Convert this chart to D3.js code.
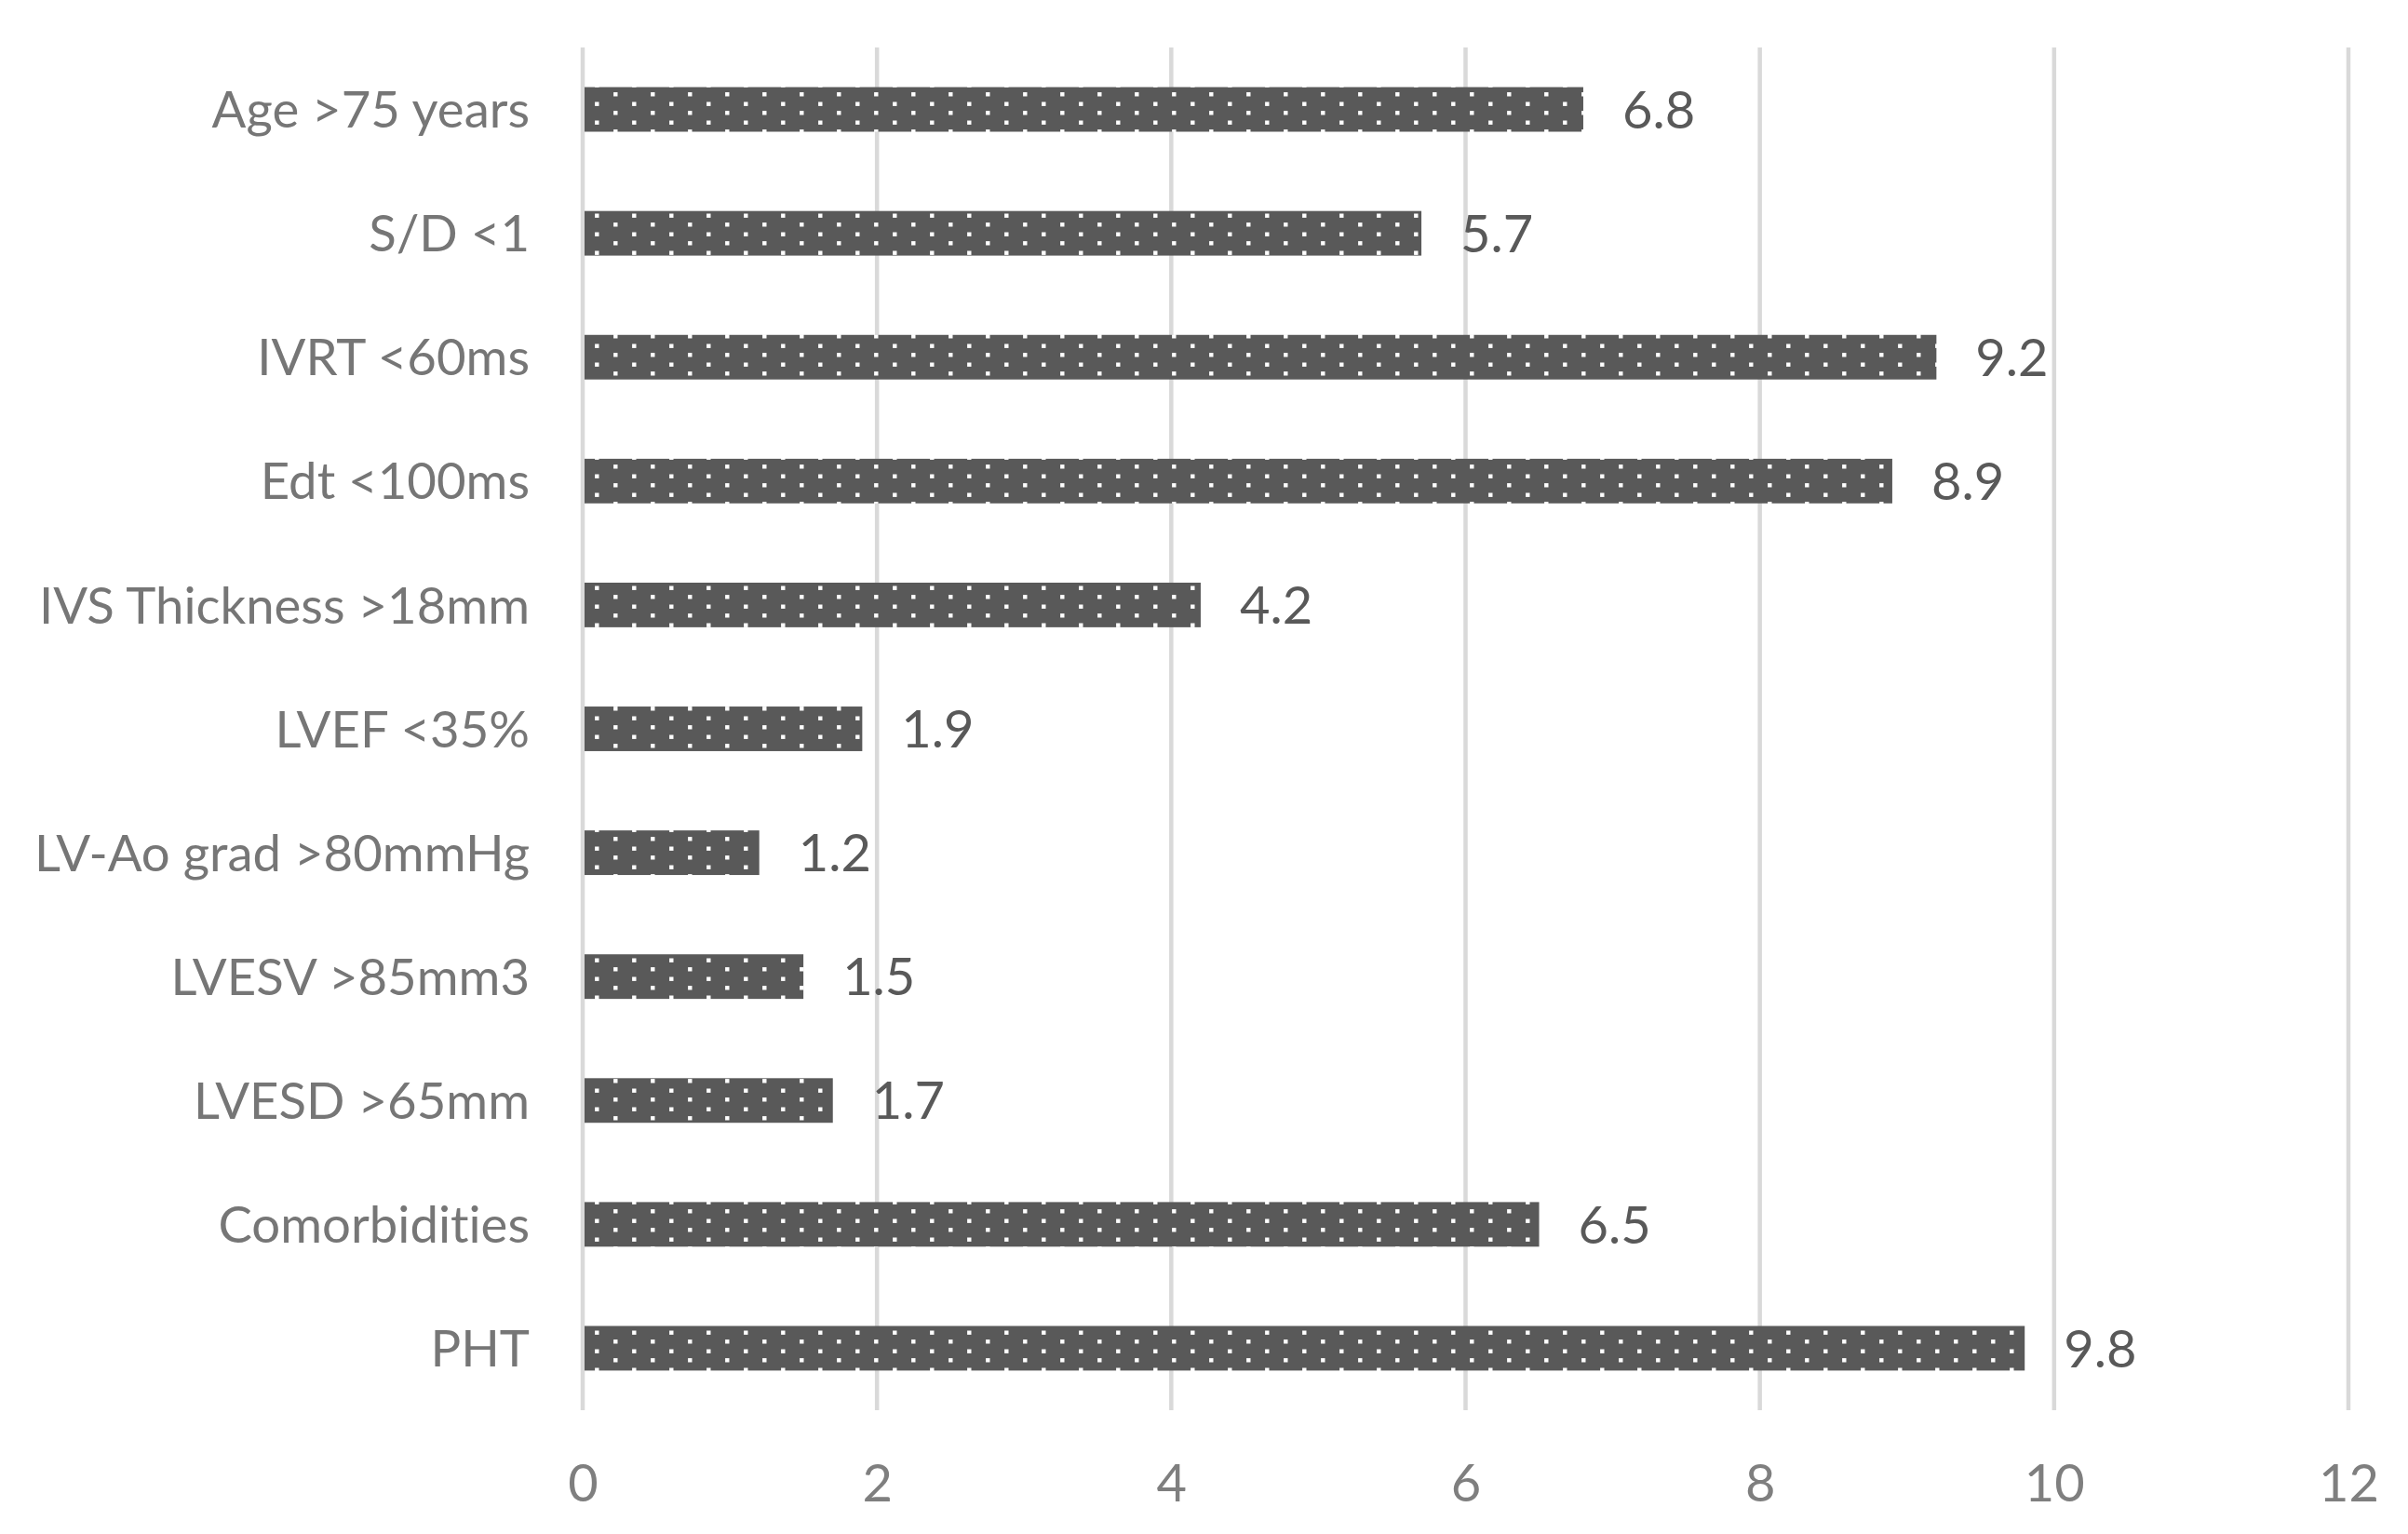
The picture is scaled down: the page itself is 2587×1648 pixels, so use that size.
<!DOCTYPE html>
<html>
<head>
<meta charset="utf-8">
<script src="https://cdn.jsdelivr.net/npm/d3@7"></script>
<style>
  html, body { margin: 0; padding: 0; background: #ffffff; }
  svg { display: block; }
  text { font-variant-ligatures: none; font-feature-settings: "liga" 0, "clig" 0; }
</style>
</head>
<body>
<script>
const categories = ["Age >75 years", "S/D <1", "IVRT <60ms", "Edt <100ms", "IVS Thickness >18mm",
  "LVEF <35%", "LV-Ao grad >80mmHg", "LVESV >85mm3", "LVESD >65mm", "Comorbidities", "PHT"];
const values = [6.8, 5.7, 9.2, 8.9, 4.2, 1.9, 1.2, 1.5, 1.7, 6.5, 9.8];
const tickValues = [0, 2, 4, 6, 8, 10, 12];
const tickLabels = ["0", "2", "4", "6", "8", "10", "12"];

const W = 2587, H = 1648;
const FONT = "Lato, 'Open Sans', sans-serif";

const svg = d3.select("body").append("svg").attr("width", W).attr("height", H);
svg.append("rect").attr("width", W).attr("height", H).attr("fill", "#ffffff");

const x = d3.scaleLinear().domain([0, 12]).range([626, 2523]);
const y = d3.scaleBand().domain(categories).range([51, 1515]).paddingInner(0.64).paddingOuter(0.32);

// dotted pattern
const defs = svg.append("defs");
const pat = defs.append("pattern").attr("id", "dots").attr("patternUnits", "userSpaceOnUse")
  .attr("x", -10).attr("y", 5).attr("width", 40).attr("height", 20);
pat.append("rect").attr("width", 40).attr("height", 20).attr("fill", "#595959");
pat.append("rect").attr("x", 9.1).attr("y", 4.5).attr("width", 4.4).attr("height", 4.4).attr("fill", "#ffffff");
pat.append("rect").attr("x", 29.1).attr("y", 14.1).attr("width", 4.4).attr("height", 4.4).attr("fill", "#ffffff");

// gridlines
svg.append("g").selectAll("line").data(tickValues).join("line")
  .attr("x1", d => x(d)).attr("x2", d => x(d))
  .attr("y1", 51).attr("y2", 1515)
  .attr("stroke", "#d9d9d9").attr("stroke-width", 4.5);

// bars
svg.append("g").selectAll("rect").data(categories).join("rect")
  .attr("x", x(0) + 2)
  .attr("y", d => y(d))
  .attr("width", (d, i) => x(values[i]) - x(0) - 2)
  .attr("height", y.bandwidth())
  .attr("fill", "url(#dots)");

// value labels
svg.append("g").selectAll("text").data(categories).join("text")
  .attr("x", (d, i) => x(values[i]) + 42)
  .attr("y", d => y(d) + y.bandwidth() / 2)
  .attr("dy", "0.36em")
  .attr("font-family", FONT).attr("font-size", 56)
  .attr("fill", "#595959")
  .text((d, i) => values[i].toFixed(1));

// category labels
const yAxis = d3.axisLeft(y).tickSize(0).tickPadding(0);
const gy = svg.append("g").attr("transform", `translate(569,0)`).call(yAxis);
gy.select(".domain").remove();
gy.selectAll("text").attr("font-family", FONT).attr("font-size", 54.5).attr("fill", "#767676")
  .attr("dy", "0.36em");

// x tick labels
const xAxis = d3.axisBottom(x).tickValues(tickValues).tickFormat((d, i) => tickLabels[i]).tickSize(0).tickPadding(0);
const gx = svg.append("g").attr("transform", `translate(0,1593)`).call(xAxis);
gx.select(".domain").remove();
gx.selectAll("text").attr("font-family", FONT).attr("font-size", 56).attr("fill", "#7f7f7f")
  .attr("dy", "0.36em");
</script>
</body>
</html>
